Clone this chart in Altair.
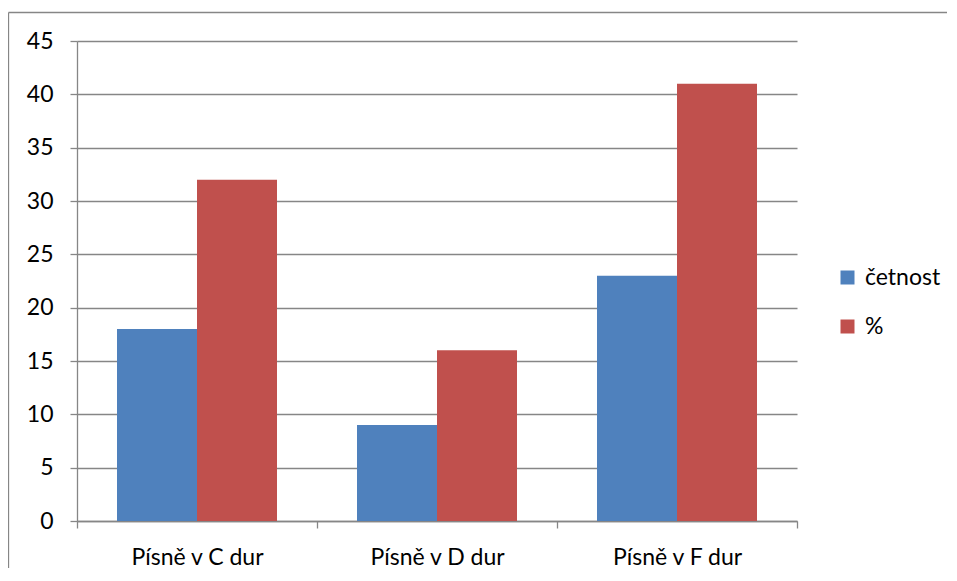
import altair as alt
import pandas as pd

categories = ["Písně v C dur", "Písně v D dur", "Písně v F dur"]
series = ["četnost", "%"]
cetnost = [18, 9, 23]
procenta = [32, 16, 41]
colors = ["#4F81BD", "#C0504D"]
y_ticks = [0, 5, 10, 15, 20, 25, 30, 35, 40, 45]

rows = []
for c, a, b in zip(categories, cetnost, procenta):
    rows.append({"kategorie": c, "serie": series[0], "hodnota": a})
    rows.append({"kategorie": c, "serie": series[1], "hodnota": b})
df = pd.DataFrame(rows)

FONT = "Lato"
GRAY = "#868686"
FS = 23

bars = alt.Chart(df).mark_bar().encode(
    x=alt.X(
        "kategorie:N",
        sort=categories,
        scale=alt.Scale(paddingInner=0, paddingOuter=0),
        axis=alt.Axis(
            title=None, labelAngle=0, tickBand="extent", grid=False,
            domainColor=GRAY, tickColor=GRAY, tickSize=7, domainWidth=1.3, tickWidth=1.3,
            labelFont=FONT, labelFontSize=FS, labelColor="black", labelPadding=18,
        ),
    ),
    xOffset=alt.XOffset("serie:N", sort=series, scale=alt.Scale(paddingInner=0, paddingOuter=0.5)),
    y=alt.Y(
        "hodnota:Q",
        scale=alt.Scale(domain=[0, 45], nice=False),
        axis=alt.Axis(
            title=None, values=y_ticks, grid=True, gridColor=GRAY, gridWidth=1.3,
            domainColor=GRAY, tickColor=GRAY, tickSize=7, domainWidth=1.3, tickWidth=1.3,
            labelFont=FONT, labelFontSize=FS, labelColor="black", labelPadding=17,
        ),
    ),
    color=alt.Color(
        "serie:N",
        sort=series,
        scale=alt.Scale(domain=series, range=colors),
        legend=alt.Legend(
            title=None, orient="none", legendX=759, legendY=225,
            symbolType="square", symbolSize=196, symbolStrokeWidth=0,
            labelFont=FONT, labelFontSize=FS, labelColor="black",
            labelOffset=6, rowPadding=25, padding=0,
        ),
    ),
)

one = alt.Data(values=[{}])
border_left = alt.Chart(one).mark_rule(color=GRAY, strokeWidth=1.3).encode(
    x=alt.value(-68.5), y=alt.value(-28.5), y2=alt.value(527)
)
border_top = alt.Chart(one).mark_rule(color=GRAY, strokeWidth=1.3).encode(
    x=alt.value(-68.5), x2=alt.value(872), y=alt.value(-28.5)
)

chart = alt.layer(border_left, border_top, bars).properties(
    width=720, height=480,
    autosize=alt.AutoSizeParams(type="none"),
    padding={"left": 69, "top": 33, "right": 150, "bottom": 48},
).configure_view(stroke=None)

chart.save("out.html", embed_options={"renderer": "svg", "actions": False})
